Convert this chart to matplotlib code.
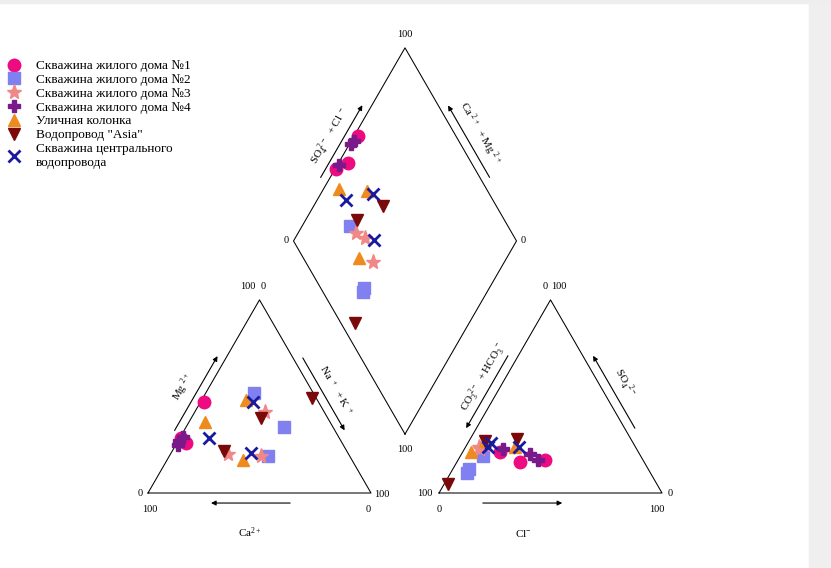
import numpy as np
import matplotlib.pyplot as plt
from matplotlib.patches import Rectangle

plt.rcParams['font.family'] = ['Liberation Serif', 'DejaVu Serif']
plt.rcParams['mathtext.fontset'] = 'custom'
plt.rcParams['mathtext.rm'] = 'Liberation Serif'

# sources, 3 samples each, % meq
names = ['Скважина жилого дома №1', 'Скважина жилого дома №2',
         'Скважина жилого дома №3', 'Скважина жилого дома №4',
         'Уличная колонка', 'Водопровод "Asia"',
         'Скважина центрального\nводопровода']

ca = [[51.5, 70, 71], [26.5, 22, 36.5], [26.5, 54, 40], [72.5, 70, 74],
      [56, 32, 49], [30, 55, 2], [58.5, 29.5, 43.5]]
mg = [[47, 26, 28.5], [52, 34, 19], [42, 20, 19], [27, 29, 25],
      [37, 48, 17], [39, 22, 49], [28.5, 47, 20.5]]
na_k = [[1.5, 4, 0.5], [21.5, 44, 44.5], [31.5, 26, 41], [0.5, 1, 1],
        [7, 20, 34], [31, 23, 49], [13, 23.5, 36]]
hco3 = [[44, 55.5, 62], [71, 80.5, 82], [67, 70, 70], [60, 49, 47],
        [66, 54, 75], [51, 66, 93.5], [66, 52, 63.5]]
cl = [[39, 28.5, 17], [10, 7, 7.5], [8, 6, 7], [17, 31, 36],
      [7, 22, 4], [21, 7, 2], [10, 24, 10.5]]
so4 = [[17, 16, 21], [19, 12.5, 10.5], [25, 24, 23], [23, 20, 17],
       [27, 24, 21], [28, 27, 4.5], [24, 24, 26]]

markers = ['o', 's', '*', 'P', '^', 'v', 'x']
colors = ['#ee0a80', '#8080f0', '#f08888', '#7a1a8a', '#ee8a1e', '#7a0a0a', '#1a1aa0']
sizes = [9, 9, 11, 9, 8.5, 8.5, 9]

S = np.sqrt(3) / 2
GAP = 0.305
OFF = 1 + GAP                       # x offset of anion triangle
DB = np.array([1 + GAP / 2, GAP * S])  # diamond bottom vertex

fig = plt.figure(figsize=(8.31, 5.68), dpi=100)
fig.patches.append(Rectangle((809 / 831, 0), 22 / 831, 1, transform=fig.transFigure,
                             color='#efefef', zorder=0))
fig.patches.append(Rectangle((0, 1 - 3 / 568), 1, 3 / 568, transform=fig.transFigure,
                             color='#eeeeee', zorder=0))
ax = fig.add_axes([0, 0, 1, 1])
ax.set_xlim(-148 / 223, 683 / 223)
ax.set_ylim(-75 / 223, 493 / 223)
ax.axis('off')
ax.patch.set_alpha(0)

lw = 0.75
# frames
ax.plot([0, 1, 0.5, 0], [0, 0, S, 0], color='black', lw=lw)
ax.plot([OFF, OFF + 1, OFF + 0.5, OFF], [0, 0, S, 0], color='black', lw=lw)
dia = np.array([DB, DB + [-0.5, S], DB + [0, 2 * S], DB + [0.5, S], DB])
ax.plot(dia[:, 0], dia[:, 1], color='black', lw=lw)

tk = dict(fontsize=7.5, ha='center', va='center')
# cation triangle ticks
ax.text(-0.036, 0, '0', **tk)
ax.text(0.009, -0.072, '100', **tk)
ax.text(1.048, -0.005, '100', **tk)
ax.text(0.987, -0.072, '0', **tk)
ax.text(0.5 - 0.054, S + 0.058, '100', **tk)
ax.text(0.5 + 0.018, S + 0.058, '0', **tk)
# anion triangle ticks
ax.text(OFF - 0.063, 0, '100', **tk)
ax.text(OFF, -0.072, '0', **tk)
ax.text(OFF + 1.036, 0, '0', **tk)
ax.text(OFF + 0.978, -0.072, '100', **tk)
ax.text(OFF + 0.5 - 0.025, S + 0.058, '0', **tk)
ax.text(OFF + 0.5 + 0.036, S + 0.058, '100', **tk)
# diamond ticks
ax.text(DB[0], DB[1] + 2 * S + 0.058, '100', **tk)
ax.text(DB[0] - 0.5 - 0.031, DB[1] + S, '0', **tk)
ax.text(DB[0] + 0.5 + 0.031, DB[1] + S, '0', **tk)
ax.text(DB[0], DB[1] - 0.067, '100', **tk)

arr = dict(arrowstyle='-|>', color='black', lw=0.8, mutation_scale=7)


def edge_arrow(p0, d, t0, t1, off, label, lt, loff, rot):
    p0 = np.asarray(p0, float)
    d = np.asarray(d, float)
    n = np.array([-d[1], d[0]]) if d[0] > 0 else np.array([d[1], -d[0]])
    a = p0 + t0 * d + off * n
    b = p0 + t1 * d + off * n
    ax.annotate('', xy=b, xytext=a, arrowprops=arr)
    c = p0 + lt * d + loff * n
    ax.text(c[0], c[1], label, rotation=rot, fontsize=8, ha='center', va='center',
            rotation_mode='anchor')


up_l = np.array([0.5, S])
up_r = np.array([-0.5, S])
edge_arrow((0, 0), up_l, 0.29, 0.70, 0.037, r'$\mathregular{Mg^{\ 2+}}$', 0.49, 0.10, 60)
edge_arrow((1, 0), up_r, 0.69, 0.29, 0.038, r'$\mathregular{Na^{\ +}\ +K^{\ +}}$', 0.48, 0.095, -60)
edge_arrow((OFF, 0), up_l, 0.70, 0.30, 0.04,
           r'$\mathregular{CO_3^{\ 2-}\ +HCO_3^{\ -}}$', 0.55, 0.085, 60)
edge_arrow((OFF + 1, 0), up_r, 0.30, 0.70, 0.04, r'$\mathregular{SO_4^{\ \ 2-}}$', 0.51, 0.10, -60)
edge_arrow(DB + [-0.5, S], up_l, 0.295, 0.694, 0.037,
           r'$\mathregular{SO_4^{\ 2-}\ +Cl^{\ -}}$', 0.49, 0.092, 60)
edge_arrow(DB + [0.5, S], up_r, 0.295, 0.692, 0.038,
           r'$\mathregular{Ca^{\ 2+}\ +Mg^{\ 2+}}$', 0.50, 0.10, -60)

# bottom arrows
ax.annotate('', xy=(0.27, -0.045), xytext=(0.65, -0.045), arrowprops=arr)
ax.text(0.457, -0.18, r'$\mathregular{Ca^{2+}}$', fontsize=8, ha='center', va='center')
ax.annotate('', xy=(OFF + 0.565, -0.045), xytext=(OFF + 0.184, -0.045), arrowprops=arr)
ax.text(OFF + 0.377, -0.18, r'$\mathregular{Cl^{-}}$', fontsize=8, ha='center', va='center')

# samples
for i, name in enumerate(names):
    c_tot = np.array(ca[i]) + np.array(mg[i]) + np.array(na_k[i])
    a_tot = np.array(hco3[i]) + np.array(cl[i]) + np.array(so4[i])
    fmg = np.array(mg[i]) / c_tot
    fna = np.array(na_k[i]) / c_tot
    fso = np.array(so4[i]) / a_tot
    fcl = np.array(cl[i]) / a_tot
    st = dict(ls='none', marker=markers[i], color=colors[i], ms=sizes[i],
              mew=2 if markers[i] == 'x' else 1, zorder=3)
    # cation triangle
    ax.plot(fna + fmg / 2, fmg * S, label=name, **st)
    # anion triangle
    ax.plot(OFF + fcl + fso / 2, fso * S, **st)
    # diamond
    cm = 1 - fna
    sc = fso + fcl
    ax.plot(DB[0] + 0.5 * (sc - cm), DB[1] + S * (sc + cm), **st)

ax.legend(loc='upper left', bbox_to_anchor=(0.0, 1 - 54 / 568), frameon=False,
          fontsize=9.5, borderpad=0, borderaxespad=0.45, handlelength=1.2,
          handletextpad=1.1, labelspacing=0.12, numpoints=1)

fig.savefig('out.png', dpi=100)
